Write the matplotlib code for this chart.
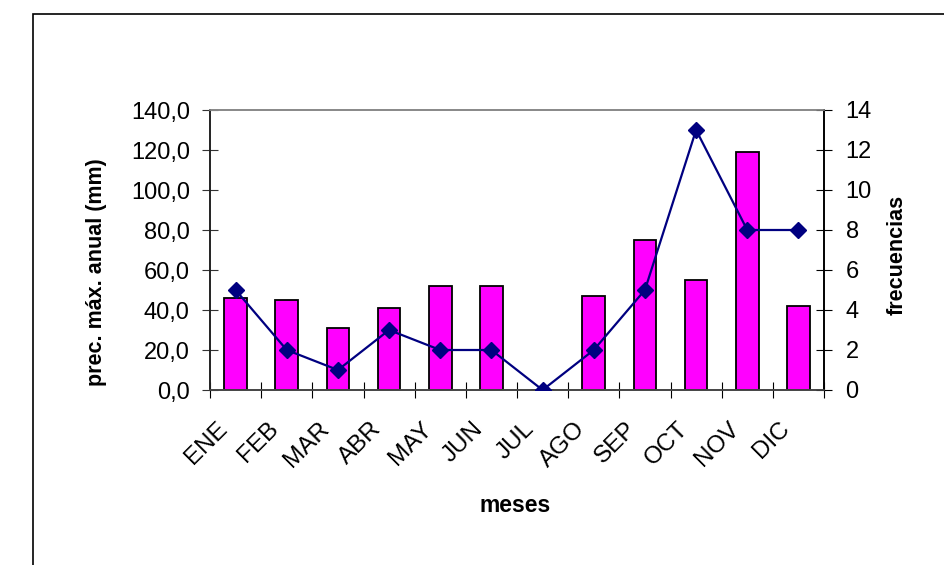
import matplotlib
matplotlib.use('Agg')
import matplotlib.pyplot as plt
from matplotlib.patches import Rectangle

meses = ['ENE', 'FEB', 'MAR', 'ABR', 'MAY', 'JUN', 'JUL', 'AGO', 'SEP', 'OCT', 'NOV', 'DIC']
prec_max = [46, 45, 31, 41, 52, 52, 0, 47, 75, 55, 119, 42]
frecuencias = [5, 2, 1, 3, 2, 2, 0, 2, 5, 13, 8, 8]

plt.rcParams['font.family'] = ['Liberation Sans', 'DejaVu Sans']

fig = plt.figure(figsize=(9.44, 5.65), dpi=100)
fig.patches.append(Rectangle((33 / 944, -0.1), 1.0, 1 - 14 / 565 + 0.1, transform=fig.transFigure,
                             fill=False, edgecolor='black', lw=1.2))

ax = fig.add_axes([210 / 944, 1 - 390 / 565, 614 / 944, 280 / 565])
x = list(range(len(meses)))
ax.bar(x, prec_max, width=0.44, color='#FF00FF', edgecolor='black', linewidth=1.3, zorder=2)
ax.set_xlim(-0.5, len(meses) - 0.5)
ax.set_ylim(0, 140)
ax.set_yticks(range(0, 141, 20))
ax.set_yticklabels(['%d,0' % v for v in range(0, 141, 20)], fontsize=17)
ax.set_xticks([i - 0.5 for i in range(len(meses) + 1)])
ax.set_xticklabels([])
# labels sit a bit left of the category centre, like the original
ax.set_xticks([i - 0.38 for i in x], minor=True)
ax.set_xticklabels(meses, minor=True, rotation=45, ha='right', va='top',
                   rotation_mode='anchor', fontsize=17.5)
ax.tick_params(axis='x', which='minor', length=0, pad=20)
ax.tick_params(axis='x', which='major', direction='inout', length=11, color='black')
ax.tick_params(axis='y', direction='inout', length=11, color='#333333', pad=9)
ax.set_ylabel('prec. máx. anual (mm)', fontsize=15.5, fontweight='bold')
ax.yaxis.set_label_coords(-0.168, 0.42)
ax.set_xlabel('meses', fontsize=16.5, fontweight='bold')
ax.xaxis.set_label_coords(0.497, -0.37)
ax.spines['top'].set_color('#888888')
ax.spines['bottom'].set_color('#444444')
ax.spines['left'].set_color('#222222')
for s in ax.spines.values():
    s.set_linewidth(1.2)

ax2 = ax.twinx()
ax2.plot(x, frecuencias, color='#000080', lw=1.6, marker='D', markersize=8, zorder=3)
ax2.set_ylim(0, 14)
ax2.set_yticks(range(0, 15, 2))
ax2.tick_params(axis='y', direction='inout', length=11, labelsize=17, pad=10)
ax2.set_ylabel('frecuencias', fontsize=15.5, fontweight='bold')
ax2.yaxis.set_label_coords(1.1026, 0.482)
for s in ax2.spines.values():
    s.set_linewidth(1.2)
ax2.spines['top'].set_color('#888888')
ax2.spines['bottom'].set_color('#444444')
ax2.spines['left'].set_color('#222222')

fig.savefig('out.png', dpi=100)
